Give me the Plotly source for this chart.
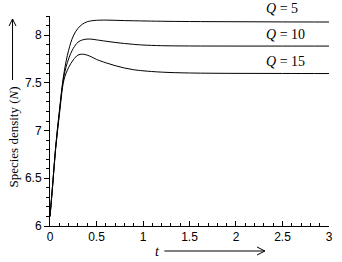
import plotly.graph_objects as go

# time grid (t)
t = [0, 0.03, 0.06, 0.1, 0.15, 0.2, 0.25, 0.3, 0.35, 0.4, 0.45, 0.5, 0.6, 0.7,
     0.8, 0.9, 1.0, 1.2, 1.5, 2.0, 2.5, 3.0]

# species density N for each Q
n_q5 = [6.10, 6.45, 6.82, 7.20, 7.60, 7.84, 7.99, 8.07, 8.115, 8.14, 8.15, 8.155,
        8.157, 8.155, 8.152, 8.15, 8.148, 8.145, 8.142, 8.14, 8.138, 8.137]
n_q10 = [6.10, 6.45, 6.81, 7.18, 7.57, 7.75, 7.86, 7.925, 7.95, 7.958, 7.957, 7.95,
         7.936, 7.923, 7.912, 7.903, 7.896, 7.889, 7.886, 7.885, 7.885, 7.885]
n_q15 = [6.10, 6.44, 6.80, 7.16, 7.53, 7.66, 7.74, 7.79, 7.80, 7.79, 7.77, 7.745,
         7.71, 7.68, 7.655, 7.637, 7.626, 7.612, 7.603, 7.599, 7.598, 7.597]

labels = ["<i>Q</i> = 5", "<i>Q</i> = 10", "<i>Q</i> = 15"]

x_ticks = [0, 0.5, 1, 1.5, 2, 2.5, 3]
x_ticktext = ["0", "0.5", "1", "1.5", "2", "2.5", "3"]
y_ticks = [6, 6.5, 7, 7.5, 8]
y_ticktext = ["6", "6.5", "7", "7.5", "8"]

W, H = 342, 262
L, R, T, B = 50, 9, 16, 36
PW, PH = W - L - R, H - T - B


def px(x):
    return (x - L) / PW


def py(y):
    return (H - B - y) / PH


fig = go.Figure()
for series in (n_q5, n_q10, n_q15):
    fig.add_trace(go.Scatter(x=t, y=series, mode="lines", line_shape="spline",
                             line=dict(color="black", width=1), showlegend=False,
                             hoverinfo="skip", cliponaxis=False))

tickfont = dict(family="Liberation Sans, Arial, sans-serif", size=12, color="black")
fig.update_xaxes(range=[0, 3.0001], tickvals=x_ticks, ticktext=x_ticktext,
                 showline=True, linecolor="black", linewidth=1,
                 ticks="inside", ticklen=5, tickcolor="black", tickwidth=1,
                 minor=dict(ticks="inside", ticklen=3, dtick=0.1, tickcolor="black"),
                 showgrid=False, zeroline=False, tickfont=tickfont)
fig.update_yaxes(range=[6, 8.2], tickvals=y_ticks, ticktext=y_ticktext,
                 showline=True, linecolor="black", linewidth=1,
                 ticks="outside", ticklen=5, tickcolor="black", tickwidth=1,
                 minor=dict(ticks="outside", ticklen=3, dtick=0.1, tickcolor="black"),
                 showgrid=False, zeroline=False, tickfont=tickfont)

serif = "Liberation Serif, Times New Roman, serif"
ann = []
for lab, ypix in zip(labels, [9, 34, 61]):
    ann.append(dict(text=lab, xref="paper", yref="paper", x=px(267), y=py(ypix),
                    xanchor="left", yanchor="middle", showarrow=False,
                    font=dict(family=serif, size=14, color="black")))
ann.append(dict(text="Species density (<i>N</i>)", xref="paper", yref="paper",
                x=px(12), y=py(137), textangle=-90, xanchor="center", yanchor="middle",
                showarrow=False, font=dict(family=serif, size=13, color="black")))
ann.append(dict(text="<i>t</i>", xref="paper", yref="paper", x=px(159), y=py(251),
                xanchor="center", yanchor="middle", showarrow=False,
                font=dict(family=serif, size=14, color="black")))

shapes = [
    dict(type="line", xref="paper", yref="paper", x0=px(12), x1=px(12), y0=py(80), y1=py(19),
         line=dict(color="black", width=1)),
    dict(type="path", xref="paper", yref="paper",
         path=f"M {px(8.5)} {py(26)} L {px(12)} {py(19)} L {px(15.5)} {py(26)}",
         line=dict(color="black", width=1)),
    dict(type="line", xref="paper", yref="paper", x0=px(166), x1=px(268), y0=py(251), y1=py(251),
         line=dict(color="black", width=1)),
    dict(type="path", xref="paper", yref="paper",
         path=f"M {px(260)} {py(247)} L {px(268)} {py(251)} L {px(260)} {py(255)}",
         line=dict(color="black", width=1)),
]

fig.update_layout(width=W, height=H, margin=dict(l=L, r=R, t=T, b=B),
                  paper_bgcolor="white", plot_bgcolor="white",
                  annotations=ann, shapes=shapes)

fig.write_html("out.html", config={"displayModeBar": False},
               post_script="document.body.style.margin='0';")
